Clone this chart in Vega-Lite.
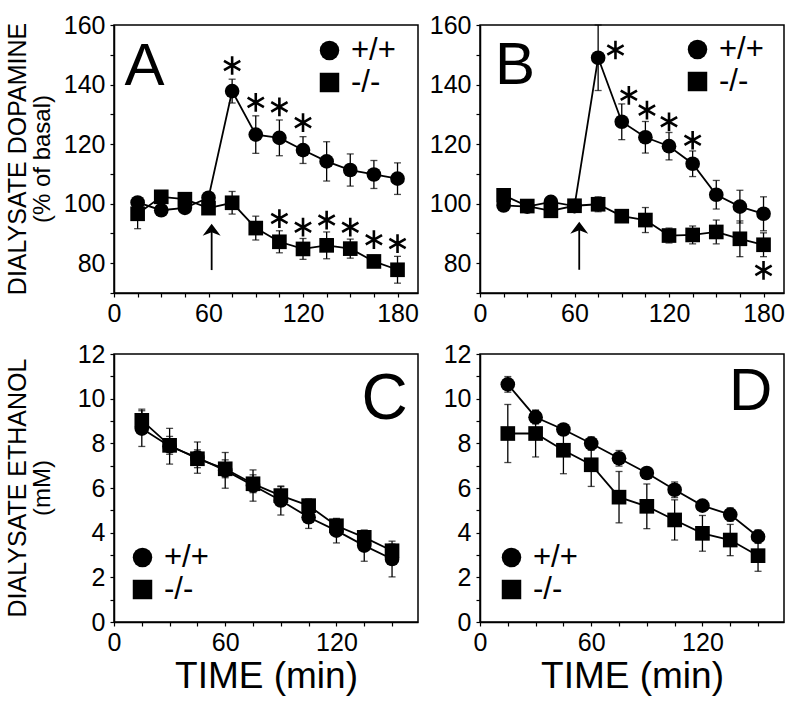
{
"$schema": "https://vega.github.io/schema/vega-lite/v6.json",
"background": "white",
"padding": {"left": 5, "top": 12, "right": 5, "bottom": 5},
"datasets": {
"main": [
{"p":"A","g":"+/+","t":15,"v":100.4,"e":1.5},{"p":"A","g":"+/+","t":30,"v":97.8,"e":1.5},{"p":"A","g":"+/+","t":45,"v":98.6,"e":1.5},{"p":"A","g":"+/+","t":60,"v":102,"e":1.5},{"p":"A","g":"+/+","t":75,"v":137.8,"e":4},{"p":"A","g":"+/+","t":90,"v":123.2,"e":6.3},{"p":"A","g":"+/+","t":105,"v":122.1,"e":6},{"p":"A","g":"+/+","t":120,"v":118,"e":4.5},{"p":"A","g":"+/+","t":135,"v":114.2,"e":6.6},{"p":"A","g":"+/+","t":150,"v":111.3,"e":5.4},{"p":"A","g":"+/+","t":165,"v":109.8,"e":4.7},{"p":"A","g":"+/+","t":180,"v":108.4,"e":5.3},
{"p":"A","g":"-/-","t":15,"v":96.6,"e":5},{"p":"A","g":"-/-","t":30,"v":102.3,"e":2},{"p":"A","g":"-/-","t":45,"v":101.5,"e":1.5},{"p":"A","g":"-/-","t":60,"v":98.5,"e":1.5},{"p":"A","g":"-/-","t":75,"v":100.3,"e":3.8},{"p":"A","g":"-/-","t":90,"v":91.8,"e":4},{"p":"A","g":"-/-","t":105,"v":87.2,"e":3.7},{"p":"A","g":"-/-","t":120,"v":84.8,"e":3.5},{"p":"A","g":"-/-","t":135,"v":86,"e":4.5},{"p":"A","g":"-/-","t":150,"v":84.9,"e":3.2},{"p":"A","g":"-/-","t":165,"v":80.6,"e":2},{"p":"A","g":"-/-","t":180,"v":77.8,"e":4.5},
{"p":"B","g":"+/+","t":15,"v":99.4,"e":1},{"p":"B","g":"+/+","t":30,"v":99,"e":1},{"p":"B","g":"+/+","t":45,"v":100.6,"e":1},{"p":"B","g":"+/+","t":60,"v":99.2,"e":1},{"p":"B","g":"+/+","t":75,"v":149,"e":11},{"p":"B","g":"+/+","t":90,"v":127.5,"e":6},{"p":"B","g":"+/+","t":105,"v":122.3,"e":5.3},{"p":"B","g":"+/+","t":120,"v":119.3,"e":4.6},{"p":"B","g":"+/+","t":135,"v":113.4,"e":4.3},{"p":"B","g":"+/+","t":150,"v":103,"e":4.8},{"p":"B","g":"+/+","t":165,"v":99,"e":5.5},{"p":"B","g":"+/+","t":180,"v":96.6,"e":5.7},
{"p":"B","g":"-/-","t":15,"v":102.8,"e":1.5},{"p":"B","g":"-/-","t":30,"v":99.2,"e":1},{"p":"B","g":"-/-","t":45,"v":97.6,"e":1.5},{"p":"B","g":"-/-","t":60,"v":99.3,"e":1},{"p":"B","g":"-/-","t":75,"v":99.8,"e":2.5},{"p":"B","g":"-/-","t":90,"v":95.8,"e":1.5},{"p":"B","g":"-/-","t":105,"v":94.5,"e":4.2},{"p":"B","g":"-/-","t":120,"v":89.3,"e":2.5},{"p":"B","g":"-/-","t":135,"v":89.5,"e":3},{"p":"B","g":"-/-","t":150,"v":90.5,"e":4},{"p":"B","g":"-/-","t":165,"v":88.2,"e":6},{"p":"B","g":"-/-","t":180,"v":86.2,"e":4},
{"p":"C","g":"+/+","t":15,"v":8.66,"e":0.8},{"p":"C","g":"+/+","t":30,"v":7.87,"e":0.8},{"p":"C","g":"+/+","t":45,"v":7.36,"e":0.7},{"p":"C","g":"+/+","t":60,"v":6.79,"e":0.8},{"p":"C","g":"+/+","t":75,"v":6.11,"e":0.7},{"p":"C","g":"+/+","t":90,"v":5.44,"e":0.65},{"p":"C","g":"+/+","t":105,"v":4.69,"e":0.5},{"p":"C","g":"+/+","t":120,"v":4.09,"e":0.55},{"p":"C","g":"+/+","t":135,"v":3.42,"e":0.7},{"p":"C","g":"+/+","t":150,"v":2.82,"e":0.8},
{"p":"C","g":"-/-","t":15,"v":9.03,"e":0.5},{"p":"C","g":"-/-","t":30,"v":7.91,"e":0.4},{"p":"C","g":"-/-","t":45,"v":7.31,"e":0.4},{"p":"C","g":"-/-","t":60,"v":6.86,"e":0.4},{"p":"C","g":"-/-","t":75,"v":6.19,"e":0.4},{"p":"C","g":"-/-","t":90,"v":5.66,"e":0.4},{"p":"C","g":"-/-","t":105,"v":5.21,"e":0.3},{"p":"C","g":"-/-","t":120,"v":4.31,"e":0.3},{"p":"C","g":"-/-","t":135,"v":3.79,"e":0.3},{"p":"C","g":"-/-","t":150,"v":3.19,"e":0.3},
{"p":"D","g":"+/+","t":15,"v":10.64,"e":0.35},{"p":"D","g":"+/+","t":30,"v":9.17,"e":0.3},{"p":"D","g":"+/+","t":45,"v":8.62,"e":0.2},{"p":"D","g":"+/+","t":60,"v":7.99,"e":0.3},{"p":"D","g":"+/+","t":75,"v":7.33,"e":0.35},{"p":"D","g":"+/+","t":90,"v":6.67,"e":0.2},{"p":"D","g":"+/+","t":105,"v":5.92,"e":0.35},{"p":"D","g":"+/+","t":120,"v":5.21,"e":0.2},{"p":"D","g":"+/+","t":135,"v":4.81,"e":0.3},{"p":"D","g":"+/+","t":150,"v":3.82,"e":0.3},
{"p":"D","g":"-/-","t":15,"v":8.44,"e":1.3},{"p":"D","g":"-/-","t":30,"v":8.44,"e":1.05},{"p":"D","g":"-/-","t":45,"v":7.69,"e":1.05},{"p":"D","g":"-/-","t":60,"v":7.04,"e":0.97},{"p":"D","g":"-/-","t":75,"v":5.59,"e":1.15},{"p":"D","g":"-/-","t":90,"v":5.18,"e":1.0},{"p":"D","g":"-/-","t":105,"v":4.57,"e":0.9},{"p":"D","g":"-/-","t":120,"v":3.97,"e":0.8},{"p":"D","g":"-/-","t":135,"v":3.67,"e":0.7},{"p":"D","g":"-/-","t":150,"v":2.97,"e":0.7}
],
"stars": [
{"p":"A","t":75,"v":146.4},{"p":"A","t":90,"v":134},{"p":"A","t":105,"v":132.5},{"p":"A","t":120,"v":127.2},{"p":"A","t":105,"v":95},{"p":"A","t":120,"v":92.1},{"p":"A","t":135,"v":94.5},{"p":"A","t":150,"v":92.1},{"p":"A","t":165,"v":87.9},{"p":"A","t":180,"v":86.6},
{"p":"B","t":86,"v":151.6},{"p":"B","t":94.5,"v":136.4},{"p":"B","t":106,"v":131.4},{"p":"B","t":120,"v":127.5},{"p":"B","t":135,"v":121.3},{"p":"B","t":180,"v":77.6}
],
"arrows": [
{"p":"A","t":62,"v0":77.7,"v1":91,"vh":91.2},
{"p":"B","t":63,"v0":77.8,"v1":92,"vh":91.9}
],
"letters": [
{"p":"A","t":19.3,"v":140,"lab":"A"},
{"p":"B","t":22.2,"v":140.3,"lab":"B"},
{"p":"C","t":146,"v":9.1,"lab":"C"},
{"p":"D","t":146,"v":9.5,"lab":"D"}
]
},
"columns": 2,
"spacing": {"row": 61, "column": 62},
"bounds": "flush",
"resolve": {"scale": {"shape": "independent"}, "legend": {"shape": "independent"}},
"concat": [
{
"width": 304, "height": 268,
"title": {"text": "DIALYSATE DOPAMINE", "subtitle": "(% of basal)", "orient": "left", "anchor": "middle", "fontSize": 25, "fontWeight": "normal", "font": "Liberation Sans", "color": "black", "subtitleFontSize": 24, "subtitleFont": "Liberation Sans", "subtitleColor": "black", "subtitlePadding": 0, "offset": 8},
"encoding": {
"x": {"field": "t", "type": "quantitative", "scale": {"domain": [0, 193], "nice": false, "zero": false}, "axis": {"values": [0,15,30,45,60,75,90,105,120,135,150,165,180], "labelExpr": "datum.value % 60 == 0 ? datum.label : ''", "title": null}},
"y": {"field": "v", "type": "quantitative", "scale": {"domain": [70, 160], "nice": false, "zero": false}, "axis": {"values": [70,80,90,100,110,120,130,140,150,160], "labelExpr": "datum.value % 20 == 0 ? datum.label : ''", "title": null}}
},
"layer": [
{"data": {"values": [{}]}, "mark": {"type": "rule", "strokeDash": [14, 11], "strokeWidth": 1.5, "color": "black"}, "encoding": {"x": {"datum": 0}, "x2": {"datum": 193}, "y": {"datum": 100}}},
{"data": {"name": "main"}, "transform": [{"filter": "datum.p == 'A'"}], "mark": {"type": "errorbar", "color": "black", "ticks": {"size": 7, "thickness": 1.3}, "rule": {"strokeWidth": 1.3}}, "encoding": {"yError": {"field": "e"}}},
{"data": {"name": "main"}, "transform": [{"filter": "datum.p == 'A'"}], "mark": {"type": "line", "color": "black", "strokeWidth": 1.8}, "encoding": {"detail": {"field": "g"}}},
{"data": {"name": "main"}, "transform": [{"filter": "datum.p == 'A'"}], "mark": {"type": "point", "filled": true, "color": "black", "opacity": 1, "size": 215}, "encoding": {"shape": {"field": "g", "type": "nominal", "scale": {"domain": ["+/+", "-/-"], "range": ["circle", "square"]}, "legend": {"orient": "none", "legendX": 200, "legendY": 10}}}},
{"data": {"name": "stars"}, "transform": [{"filter": "datum.p == 'A'"}], "mark": {"type": "point", "shape": "M0,-1L0,1M-0.87,-0.5L0.87,0.5M-0.87,0.5L0.87,-0.5", "filled": false, "color": "black", "strokeWidth": 2.6, "opacity": 1, "size": 350}},
{"data": {"name": "arrows"}, "transform": [{"filter": "datum.p == 'A'"}], "mark": {"type": "rule", "color": "black", "strokeWidth": 1.8}, "encoding": {"y": {"field": "v0", "type": "quantitative"}, "y2": {"field": "v1"}}},
{"data": {"name": "arrows"}, "transform": [{"filter": "datum.p == 'A'"}], "mark": {"type": "point", "shape": "M0,-0.6L0.9,0.6L0,0.25L-0.9,0.6Z", "filled": true, "color": "black", "opacity": 1, "size": 400}, "encoding": {"y": {"field": "vh", "type": "quantitative"}}},
{"data": {"name": "letters"}, "transform": [{"filter": "datum.p == 'A'"}], "mark": {"type": "text", "fontSize": 60, "align": "center", "baseline": "alphabetic", "color": "black"}, "encoding": {"text": {"field": "lab", "type": "nominal"}}}
]
},
{
"width": 304, "height": 268,
"encoding": {
"x": {"field": "t", "type": "quantitative", "scale": {"domain": [0, 193], "nice": false, "zero": false}, "axis": {"values": [0,15,30,45,60,75,90,105,120,135,150,165,180], "labelExpr": "datum.value % 60 == 0 ? datum.label : ''", "title": null}},
"y": {"field": "v", "type": "quantitative", "scale": {"domain": [70, 160], "nice": false, "zero": false}, "axis": {"values": [70,80,90,100,110,120,130,140,150,160], "labelExpr": "datum.value % 20 == 0 ? datum.label : ''", "title": null}}
},
"layer": [
{"data": {"values": [{}]}, "mark": {"type": "rule", "strokeDash": [14, 11], "strokeWidth": 1.5, "color": "black"}, "encoding": {"x": {"datum": 0}, "x2": {"datum": 193}, "y": {"datum": 100}}},
{"data": {"name": "main"}, "transform": [{"filter": "datum.p == 'B'"}], "mark": {"type": "errorbar", "color": "black", "ticks": {"size": 7, "thickness": 1.3}, "rule": {"strokeWidth": 1.3}}, "encoding": {"yError": {"field": "e"}}},
{"data": {"name": "main"}, "transform": [{"filter": "datum.p == 'B'"}], "mark": {"type": "line", "color": "black", "strokeWidth": 1.8}, "encoding": {"detail": {"field": "g"}}},
{"data": {"name": "main"}, "transform": [{"filter": "datum.p == 'B'"}], "mark": {"type": "point", "filled": true, "color": "black", "opacity": 1, "size": 215}, "encoding": {"shape": {"field": "g", "type": "nominal", "scale": {"domain": ["+/+", "-/-"], "range": ["circle", "square"]}, "legend": {"orient": "none", "legendX": 202, "legendY": 9}}}},
{"data": {"name": "stars"}, "transform": [{"filter": "datum.p == 'B'"}], "mark": {"type": "point", "shape": "M0,-1L0,1M-0.87,-0.5L0.87,0.5M-0.87,0.5L0.87,-0.5", "filled": false, "color": "black", "strokeWidth": 2.6, "opacity": 1, "size": 350}},
{"data": {"name": "arrows"}, "transform": [{"filter": "datum.p == 'B'"}], "mark": {"type": "rule", "color": "black", "strokeWidth": 1.8}, "encoding": {"y": {"field": "v0", "type": "quantitative"}, "y2": {"field": "v1"}}},
{"data": {"name": "arrows"}, "transform": [{"filter": "datum.p == 'B'"}], "mark": {"type": "point", "shape": "M0,-0.6L0.9,0.6L0,0.25L-0.9,0.6Z", "filled": true, "color": "black", "opacity": 1, "size": 400}, "encoding": {"y": {"field": "vh", "type": "quantitative"}}},
{"data": {"name": "letters"}, "transform": [{"filter": "datum.p == 'B'"}], "mark": {"type": "text", "fontSize": 60, "align": "center", "baseline": "alphabetic", "color": "black"}, "encoding": {"text": {"field": "lab", "type": "nominal"}}}
]
},
{
"width": 304, "height": 268,
"title": {"text": "DIALYSATE ETHANOL", "subtitle": "(mM)", "orient": "left", "anchor": "middle", "fontSize": 25, "fontWeight": "normal", "font": "Liberation Sans", "color": "black", "subtitleFontSize": 24, "subtitleFont": "Liberation Sans", "subtitleColor": "black", "subtitlePadding": 0, "offset": 22},
"encoding": {
"x": {"field": "t", "type": "quantitative", "scale": {"domain": [0, 164], "nice": false, "zero": false}, "axis": {"values": [0,15,30,45,60,75,90,105,120,135,150], "labelExpr": "datum.value % 60 == 0 ? datum.label : ''", "title": "TIME (min)"}},
"y": {"field": "v", "type": "quantitative", "scale": {"domain": [0, 12], "nice": false, "zero": false}, "axis": {"values": [0,1,2,3,4,5,6,7,8,9,10,11,12], "labelExpr": "datum.value % 2 == 0 ? datum.label : ''", "title": null}}
},
"layer": [
{"data": {"name": "main"}, "transform": [{"filter": "datum.p == 'C'"}], "mark": {"type": "errorbar", "color": "black", "ticks": {"size": 7, "thickness": 1.3}, "rule": {"strokeWidth": 1.3}}, "encoding": {"yError": {"field": "e"}}},
{"data": {"name": "main"}, "transform": [{"filter": "datum.p == 'C'"}], "mark": {"type": "line", "color": "black", "strokeWidth": 1.8}, "encoding": {"detail": {"field": "g"}}},
{"data": {"name": "main"}, "transform": [{"filter": "datum.p == 'C'"}], "mark": {"type": "point", "filled": true, "color": "black", "opacity": 1, "size": 215}, "encoding": {"shape": {"field": "g", "type": "nominal", "scale": {"domain": ["+/+", "-/-"], "range": ["circle", "square"]}, "legend": {"orient": "none", "legendX": 13, "legendY": 188}}}},
{"data": {"name": "letters"}, "transform": [{"filter": "datum.p == 'C'"}], "mark": {"type": "text", "fontSize": 64, "align": "center", "baseline": "alphabetic", "color": "black"}, "encoding": {"text": {"field": "lab", "type": "nominal"}}}
]
},
{
"width": 304, "height": 268,
"encoding": {
"x": {"field": "t", "type": "quantitative", "scale": {"domain": [0, 164], "nice": false, "zero": false}, "axis": {"values": [0,15,30,45,60,75,90,105,120,135,150], "labelExpr": "datum.value % 60 == 0 ? datum.label : ''", "title": "TIME (min)"}},
"y": {"field": "v", "type": "quantitative", "scale": {"domain": [0, 12], "nice": false, "zero": false}, "axis": {"values": [0,1,2,3,4,5,6,7,8,9,10,11,12], "labelExpr": "datum.value % 2 == 0 ? datum.label : ''", "title": null}}
},
"layer": [
{"data": {"name": "main"}, "transform": [{"filter": "datum.p == 'D'"}], "mark": {"type": "errorbar", "color": "black", "ticks": {"size": 7, "thickness": 1.3}, "rule": {"strokeWidth": 1.3}}, "encoding": {"yError": {"field": "e"}}},
{"data": {"name": "main"}, "transform": [{"filter": "datum.p == 'D'"}], "mark": {"type": "line", "color": "black", "strokeWidth": 1.8}, "encoding": {"detail": {"field": "g"}}},
{"data": {"name": "main"}, "transform": [{"filter": "datum.p == 'D'"}], "mark": {"type": "point", "filled": true, "color": "black", "opacity": 1, "size": 215}, "encoding": {"shape": {"field": "g", "type": "nominal", "scale": {"domain": ["+/+", "-/-"], "range": ["circle", "square"]}, "legend": {"orient": "none", "legendX": 16, "legendY": 188}}}},
{"data": {"name": "letters"}, "transform": [{"filter": "datum.p == 'D'"}], "mark": {"type": "text", "fontSize": 60, "align": "center", "baseline": "alphabetic", "color": "black"}, "encoding": {"text": {"field": "lab", "type": "nominal"}}}
]
}
],
"config": {
"font": "Liberation Sans",
"view": {"stroke": "black", "strokeWidth": 1.5},
"axis": {"domainColor": "black", "domainWidth": 1.5, "tickColor": "black", "tickWidth": 1.2, "tickSize": 4, "labelFontSize": 25, "labelColor": "black", "labelPadding": 4, "titleColor": "black", "titleFontWeight": "normal", "grid": false, "labelFlush": false, "labelFont": "Liberation Sans", "titleFont": "Liberation Sans"},
"axisY": {"labelPadding": 5},
"axisX": {"titleFontSize": 37, "titlePadding": 3},
"legend": {"title": null, "labelFontSize": 31, "symbolSize": 380, "labelOffset": 6, "rowPadding": 0, "padding": 0, "symbolFillColor": "black", "symbolStrokeColor": "black", "symbolStrokeWidth": 0, "labelColor": "black", "labelFont": "Liberation Sans"}
}
}
